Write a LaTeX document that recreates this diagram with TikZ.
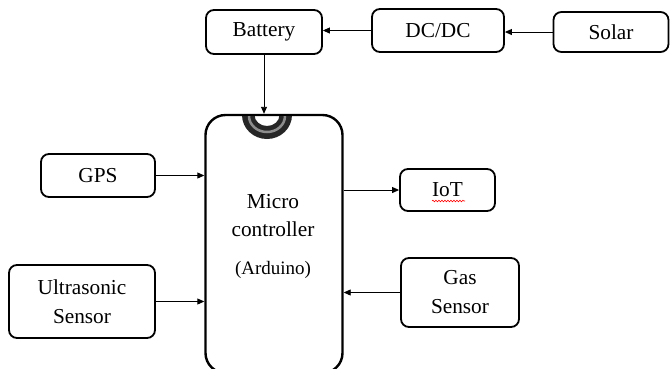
\documentclass[tikz,border=0pt]{standalone}
\usepackage{fontspec}
\setmainfont{Liberation Serif}
\newfontfamily\tnr{Liberation Serif}
\usetikzlibrary{arrows.meta,decorations.pathmorphing}
\begin{document}
\begin{tikzpicture}[x=1pt,y=-1pt,
  blk/.style={draw,line width=1.8pt,rounded corners=8pt,inner sep=0pt,
    font=\tnr\fontsize{21.3}{29}\selectfont,align=center},
  txt/.style={inner sep=0pt,font=\tnr\fontsize{21.3}{28}\selectfont,align=center},
  arr/.style={line width=0.9pt,-{Triangle[length=7pt,width=6pt]}}]
\useasboundingbox (0,0) rectangle (670,368);
\clip (0,0) rectangle (670,368);
\node[blk,minimum width=116pt,minimum height=44pt] (battery) at (264,32) {Battery};
\node[blk,minimum width=132pt,minimum height=43pt] (dcdc) at (438,30.5) {DC/DC};
\node[blk,minimum width=115pt,minimum height=40pt] (solar) at (611,32) {Solar};
\node[draw,line width=2.4pt,rounded corners=20pt,minimum width=137pt,minimum height=258pt,inner sep=0pt] (micro) at (274,244) {};
\node[txt] (mtext) at (273,216) {Micro\\controller};
\node[inner sep=0pt,font=\tnr\fontsize{19}{22}\selectfont] (ard) at (273,270) {(Arduino)};
\node[blk,minimum width=114pt,minimum height=43pt] (gps) at (98,175.5) {GPS};
\node[blk,minimum width=146pt,minimum height=73pt] (ultra) at (82,301.5) {Ultrasonic\\Sensor};
\node[blk,minimum width=95pt,minimum height=42pt] (iot) at (447.5,190) {IoT};
\node[blk,minimum width=118pt,minimum height=69pt] (gas) at (460,292.5) {Gas\\Sensor};
% notch
\fill[black!85] (242,115) arc[start angle=180,end angle=0,x radius=25,y radius=24]
  -- (279.5,115) arc[start angle=0,end angle=180,x radius=12.5,y radius=11] -- cycle;
\draw[black!45,line width=2.5pt] (249,116) arc[start angle=180,end angle=0,x radius=18,y radius=16];
\draw[line width=2.4pt] (238,115) -- (296,115);
% IoT underline
\draw[red,line width=0.6pt,decorate,decoration={snake,amplitude=0.8pt,segment length=3pt}] (432,201) -- (465,201);
% connectors
\draw[arr] (dcdc.west) -- (battery.east |- dcdc.west);
\draw[arr] (solar.west) -- (dcdc.east |- solar.west);
\draw[arr] (battery.south) -- (battery.south |- micro.north);
\draw[arr] (gps.east) -- (micro.west |- gps.east);
\draw[arr] (ultra.east) -- (micro.west |- ultra.east);
\draw[arr] (micro.east |- iot.west) -- (iot.west);
\draw[arr] (gas.west) -- (micro.east |- gas.west);
\end{tikzpicture}
\end{document}
